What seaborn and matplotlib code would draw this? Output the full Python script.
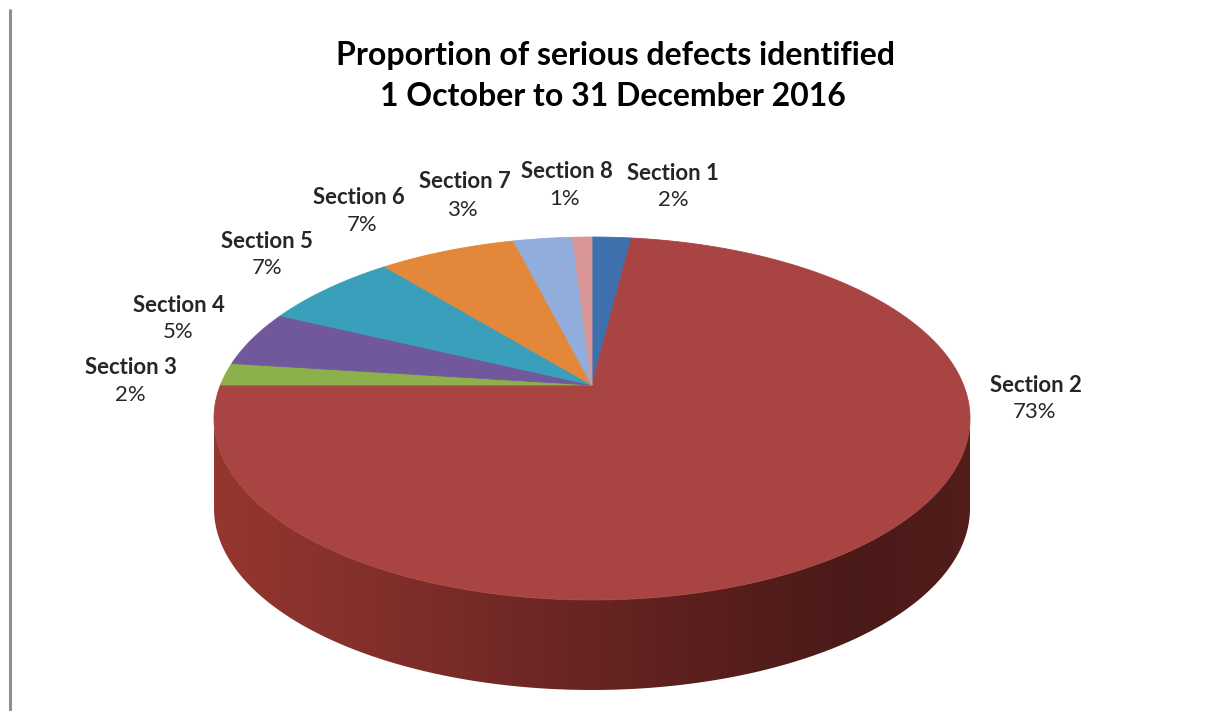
import numpy as np
import matplotlib
matplotlib.use("Agg")
import matplotlib.pyplot as plt
import matplotlib.transforms as mtransforms
from matplotlib.path import Path
from matplotlib.patches import Polygon
from matplotlib.colors import LinearSegmentedColormap
import seaborn as sns

# ---------------- data ----------------
sections = ["Section 1", "Section 2", "Section 3", "Section 4",
            "Section 5", "Section 6", "Section 7", "Section 8"]
shares = [2, 73, 2, 5, 7, 7, 3, 1]
pct_labels = [f"{v}%" for v in shares]
title_lines = ["Proportion of serious defects identified",
               "1 October to 31 December 2016"]

# ---------------- style ----------------
colors = sns.color_palette(["#3F70AE", "#A84441", "#8CB04C", "#71579C",
                            "#3A9FBA", "#E3873A", "#91ADDB", "#D99696"])
sns.set_theme(style="white")
plt.rcParams['font.family'] = ['Lato', 'DejaVu Sans']

W, H = 1213, 711
fig = plt.figure(figsize=(W / 100, H / 100), dpi=100)
ax = fig.add_axes([0, 0, 1, 1])

# perspective geometry of the 3-D pie (pixels)
CX, CY = 592, 385          # apex of the slices
A, B, K = 175.3, 371.5, 0.1846
DEPTH = 90


class Perspective(mtransforms.Transform):
    input_dims = output_dims = 2
    is_separable = False
    has_inverse = False

    def transform_non_affine(self, values):
        v = np.asarray(values, dtype=float).reshape(-1, 2)
        x, y = v[:, 0], v[:, 1]
        d = 1 + K * y
        return np.column_stack([CX + B * x / d, CY - A * y / d])

    def transform_path_non_affine(self, path):
        pts = []
        for seg, code in path.iter_bezier():
            if code == Path.MOVETO:
                pts.append(np.asarray(seg.control_points))
            else:
                t = np.linspace(0, 1, 40)[1:]
                pts.append(np.asarray(seg(t)))
        verts = np.vstack(pts)
        return Path(self.transform_non_affine(verts))


persp = Perspective()

wedges, _ = ax.pie(shares, colors=colors, startangle=90, counterclock=False,
                   wedgeprops=dict(linewidth=0.6))
for w, c in zip(wedges, colors):
    w.set_edgecolor(c)
    w.set_transform(persp + ax.transData)
    w.set_zorder(3)

ax.set_aspect('auto')
ax.set_xlim(0, W)
ax.set_ylim(H, 0)
ax.axis('off')

# ---------------- side of the cylinder ----------------
th = np.linspace(np.pi + np.arcsin(K), 2 * np.pi - np.arcsin(K), 300)
top_edge = persp.transform_non_affine(np.column_stack([np.cos(th), np.sin(th)]))
bot_edge = top_edge + np.array([0, DEPTH])
side_poly = Polygon(np.vstack([top_edge, bot_edge[::-1]]), closed=True,
                    facecolor='none', edgecolor='none', transform=ax.transData)
ax.add_patch(side_poly)
side_cmap = LinearSegmentedColormap.from_list(
    "side", [(0.0, "#94372F"), (0.3, "#7B2C29"), (0.6, "#5E211F"),
             (0.85, "#4A1A18"), (1.0, "#521D1B")])
xmin, xmax = top_edge[:, 0].min(), top_edge[:, 0].max()
ymin, ymax = top_edge[:, 1].min(), bot_edge[:, 1].max()
grad = np.linspace(0, 1, 256)[None, :]
im = ax.imshow(grad, cmap=side_cmap, aspect='auto',
               extent=[xmin, xmax, ymax, ymin], zorder=2, interpolation='bilinear')
im.set_clip_path(side_poly)
ax.set_xlim(0, W)
ax.set_ylim(H, 0)

# ---------------- labels ----------------
name_pos = [(673, 173), (1036, 385), (131, 367), (179, 305),
            (267, 241), (359, 197), (465, 182), (567, 172)]
pct_pos = [(673, 200), (1035, 412), (130, 395), (178, 332),
           (267, 268), (362, 225), (463, 210), (565, 199)]

renderer = fig.canvas.get_renderer()
probe = ax.text(0, 0, "Section 8", fontsize=10, fontweight='bold')
lab_fs = 10 * 92 / probe.get_window_extent(renderer).width
probe.remove()

for name, pct, (nx, ny), (px, py) in zip(sections, pct_labels, name_pos, pct_pos):
    ax.text(nx, ny, name, ha='center', va='center', fontsize=lab_fs,
            fontweight='bold', color='#262626', zorder=5)
    ax.text(px, py, pct, ha='center', va='center', fontsize=lab_fs,
            color='#262626', zorder=5)

# ---------------- title ----------------
t1 = ax.text(616, 55, title_lines[0], ha='center', va='center', fontsize=20,
             fontweight='bold', color='black')
tfs = 20 * 561 / t1.get_window_extent(renderer).width
t1.set_fontsize(tfs)
ax.text(613, 97, title_lines[1], ha='center', va='center', fontsize=tfs,
        fontweight='bold', color='black')

# left border line
ax.axvline(10, ymin=0, ymax=1 - 10 / H, color='#8f8f8f', linewidth=2.2)

fig.savefig("out.png", dpi=100, facecolor='white')
